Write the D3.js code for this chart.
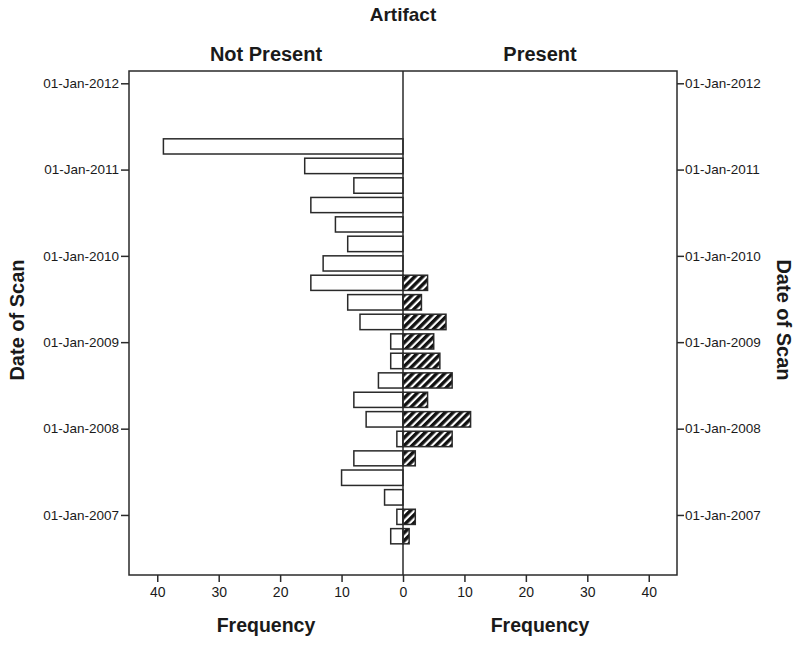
<!DOCTYPE html>
<html>
<head>
<meta charset="utf-8">
<script src="https://cdn.jsdelivr.net/npm/d3@7"></script>
<style>
  body { margin: 0; background: #fff; }
  svg text { font-family: "Liberation Sans", Arial, sans-serif; fill: #1a1a1a; }
</style>
</head>
<body>
<svg id="chart" width="800" height="648"></svg>
<script>
// bin edges of the date histogram (earliest first), 21 bins
const binEdges = [
  "2006-08-23", "2006-11-13", "2007-02-03", "2007-04-27", "2007-07-19",
  "2007-10-08", "2007-12-30", "2008-03-22", "2008-06-12", "2008-09-02",
  "2008-11-24", "2009-02-14", "2009-05-08", "2009-07-30", "2009-10-20",
  "2010-01-10", "2010-04-03", "2010-06-24", "2010-09-14", "2010-12-06",
  "2011-02-27", "2011-05-20"
];
const notPresent = [2, 1, 3, 10, 8, 1, 6, 8, 4, 2, 2, 7, 9, 15, 13, 9, 11, 15, 8, 16, 39];
const present    = [1, 2, 0, 0, 2, 8, 11, 4, 8, 6, 5, 7, 3, 4, 0, 0, 0, 0, 0, 0, 0];
const panels = ["Not Present", "Present"];
const freqTicks = [0, 10, 20, 30, 40];
const yearTicks = ["2007-01-01", "2008-01-01", "2009-01-01", "2010-01-01", "2011-01-01", "2012-01-01"];

const parseDate = d3.timeParse("%Y-%m-%d");
const formatDate = d3.timeFormat("%d-%b-%Y");

const plotLeft = 129, plotRight = 677, mid = 403, plotTop = 71, plotBottom = 575;
const ink = "#2a2a2a";

const svg = d3.select("#chart");

// pattern for the "Present" bars
const defs = svg.append("defs");
const pat = defs.append("pattern")
    .attr("id", "hatch")
    .attr("patternUnits", "userSpaceOnUse")
    .attr("width", 5.6)
    .attr("height", 5.6)
    .attr("patternTransform", "rotate(45)");
pat.append("rect").attr("width", 5.6).attr("height", 5.6).attr("fill", "#fff");
pat.append("rect").attr("width", 3.4).attr("height", 5.6).attr("fill", "#111");

const y = d3.scaleTime()
    .domain([parseDate("2006-04-22"), parseDate("2012-02-22")])
    .range([plotBottom, plotTop]);

const xL = d3.scaleLinear().domain([0, 44.6]).range([mid, plotLeft]);
const xR = d3.scaleLinear().domain([0, 44.6]).range([mid, plotRight]);

const bins = notPresent.map((d, i) => ({
  start: parseDate(binEdges[i]),
  end: parseDate(binEdges[i + 1]),
  notPresent: d,
  present: present[i]
}));

const pad = 2.1;

// left bars
svg.append("g")
  .selectAll("rect")
  .data(bins.filter(d => d.notPresent > 0))
  .join("rect")
    .attr("x", d => xL(d.notPresent))
    .attr("y", d => y(d.end) + pad)
    .attr("width", d => xL(0) - xL(d.notPresent))
    .attr("height", d => y(d.start) - y(d.end) - 2 * pad)
    .attr("fill", "#fff")
    .attr("stroke", ink)
    .attr("stroke-width", 1.5);

// right bars
svg.append("g")
  .selectAll("rect")
  .data(bins.filter(d => d.present > 0))
  .join("rect")
    .attr("x", xR(0))
    .attr("y", d => y(d.end) + pad)
    .attr("width", d => xR(d.present) - xR(0))
    .attr("height", d => y(d.start) - y(d.end) - 2 * pad)
    .attr("fill", "url(#hatch)")
    .attr("stroke", ink)
    .attr("stroke-width", 1.5);

// frame + centre line
svg.append("rect")
    .attr("x", plotLeft).attr("y", plotTop)
    .attr("width", plotRight - plotLeft).attr("height", plotBottom - plotTop)
    .attr("fill", "none").attr("stroke", ink).attr("stroke-width", 1.5);
svg.append("line")
    .attr("x1", mid).attr("x2", mid).attr("y1", plotTop).attr("y2", plotBottom)
    .attr("stroke", ink).attr("stroke-width", 1.5);

// x axes
const styleAxis = g => {
  g.select(".domain").remove();
  g.selectAll(".tick line").attr("stroke", ink).attr("stroke-width", 1.5);
  g.selectAll(".tick text").attr("fill", "#1a1a1a");
};

svg.append("g")
    .attr("transform", `translate(0,${plotBottom})`)
    .call(d3.axisBottom(xL).tickValues(freqTicks).tickSize(7).tickPadding(5))
    .call(styleAxis)
    .selectAll("text").style("font-size", "14px");

svg.append("g")
    .attr("transform", `translate(0,${plotBottom})`)
    .call(d3.axisBottom(xR).tickValues(freqTicks.slice(1)).tickSize(7).tickPadding(5))
    .call(styleAxis)
    .selectAll("text").style("font-size", "14px");

// y axes
const yTickVals = yearTicks.map(parseDate);
svg.append("g")
    .attr("transform", `translate(${plotLeft},0)`)
    .call(d3.axisLeft(y).tickValues(yTickVals).tickFormat(formatDate).tickSize(8).tickPadding(2))
    .call(styleAxis)
    .selectAll("text").style("font-size", "13.5px");

svg.append("g")
    .attr("transform", `translate(${plotRight},0)`)
    .call(d3.axisRight(y).tickValues(yTickVals).tickFormat(formatDate).tickSize(7).tickPadding(1))
    .call(styleAxis)
    .selectAll("text").style("font-size", "13.5px");

// titles
const bold = (sel, size) => sel.style("font-weight", "bold").style("font-size", size + "px").attr("text-anchor", "middle");

svg.append("text").attr("x", mid).attr("y", 21).text("Artifact").call(bold, 19);

svg.selectAll(".panel-title")
  .data(panels)
  .join("text")
    .attr("class", "panel-title")
    .attr("x", (d, i) => i === 0 ? (plotLeft + mid) / 2 : (mid + plotRight) / 2)
    .attr("y", 61)
    .text(d => d)
    .call(bold, 20);

svg.selectAll(".freq-title")
  .data(panels)
  .join("text")
    .attr("class", "freq-title")
    .attr("x", (d, i) => i === 0 ? (plotLeft + mid) / 2 : (mid + plotRight) / 2)
    .attr("y", 632)
    .text("Frequency")
    .call(bold, 19.5);

svg.append("text")
    .attr("transform", "translate(24,320) rotate(-90)")
    .text("Date of Scan")
    .call(bold, 20);

svg.append("text")
    .attr("transform", "translate(777,320) rotate(90)")
    .text("Date of Scan")
    .call(bold, 20);
</script>
</body>
</html>
